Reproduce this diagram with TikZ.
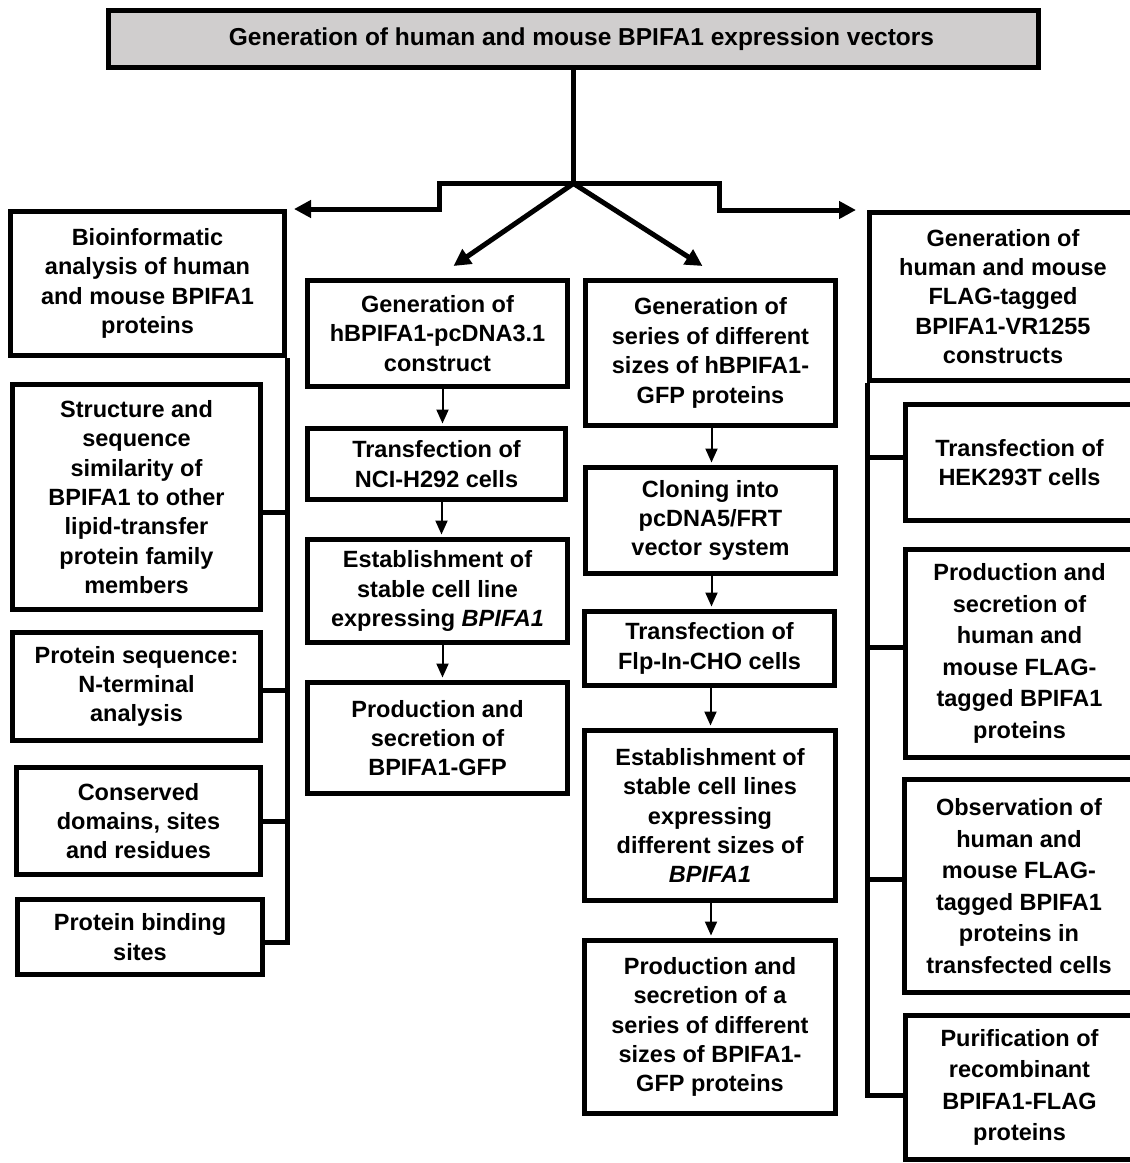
\documentclass[tikz,border=0pt]{standalone}
\usepackage{fontspec}
\setmainfont{Liberation Sans}
\usetikzlibrary{arrows.meta,calc}

\definecolor{headgray}{RGB}{208,206,206}

% box with outer edges x1,y1,x2,y2 (line width 5pt included)
\newcommand{\flowbox}[7][]{%
  \node[box, #1, minimum width={#5-#3-5}, minimum height={#6-#4-5}]
    (#2) at ({(#3+#5)/2},{(#4+#6)/2}) {#7};}

\begin{document}
\begin{tikzpicture}[x=1pt,y=-1pt,
  box/.style={draw, line width=5pt, fill=white, inner sep=0pt, align=center,
    font=\fontsize{23.5}{29.4}\selectfont\bfseries},
  loose/.style={font=\fontsize{23.5}{31.6}\selectfont\bfseries},
  heavy/.style={line width=5pt},
  bigarrow/.style={line width=5pt, -{Triangle[length=17pt,width=17pt]}},
  smallarrow/.style={line width=2pt, -{Triangle[length=14pt,width=12pt]}},
]
\useasboundingbox (0,0) rectangle (1130,1163);

% title
\node[box, fill=headgray, minimum width=930, minimum height=57,
      font=\fontsize{24.5}{28}\selectfont\bfseries]
  (top) at (573.5,39) {\hspace*{16pt}Generation of human and mouse BPIFA1 expression vectors};

% left column
\flowbox{bio}{8}{209}{287}{358}{Bioinformatic\\analysis of human\\and mouse BPIFA1\\proteins}
\flowbox{struct}{10}{382}{263}{612}{Structure and\\sequence\\similarity of\\BPIFA1 to other\\lipid-transfer\\protein family\\members}
\flowbox{protseq}{10}{630}{263}{743}{Protein sequence:\\N-terminal\\analysis}
\flowbox{cons}{14}{765}{263}{877}{Conserved\\domains, sites\\and residues}
\flowbox{bind}{15}{897}{265}{977}{Protein binding\\sites}

% first middle column
\flowbox{m1}{305}{278}{570}{389}{Generation of\\hBPIFA1-pcDNA3.1\\construct}
\flowbox{m2}{305}{426}{568}{502}{Transfection of\\NCI-H292 cells}
\flowbox{m3}{305}{537}{570}{645}{Establishment of\\stable cell line\\expressing \textit{BPIFA1}}
\flowbox{m4}{305}{680}{570}{796}{Production and\\secretion of\\BPIFA1-GFP}

% second middle column
\flowbox{m5}{583}{278}{838}{428}{Generation of\\series of different\\sizes of hBPIFA1-\\GFP proteins}
\flowbox{m6}{583}{465}{838}{576}{Cloning into\\pcDNA5/FRT\\vector system}
\flowbox{m7}{582}{609}{837}{688}{Transfection of\\Flp-In-CHO cells}
\flowbox{m8}{582}{728}{838}{903}{Establishment of\\stable cell lines\\expressing\\different sizes of\\\textit{BPIFA1}}
\flowbox{m9}{582}{938}{838}{1116}{Production and\\secretion of a\\series of different\\sizes of BPIFA1-\\GFP proteins}

% right column
\flowbox{R1}{867}{210}{1139}{383}{Generation of\\human and mouse\\FLAG-tagged\\BPIFA1-VR1255\\constructs}
\flowbox{R2}{903}{402}{1136}{523}{Transfection of\\HEK293T cells}
\flowbox[loose]{R3}{903}{547}{1136}{760}{Production and\\secretion of\\human and\\mouse FLAG-\\tagged BPIFA1\\proteins}
\flowbox[loose]{R4}{902}{777}{1136}{995}{Observation of\\human and\\mouse FLAG-\\tagged BPIFA1\\proteins in\\transfected cells}
\flowbox[loose]{R5}{903}{1013}{1136}{1162}{Purification of\\recombinant\\BPIFA1-FLAG\\proteins}

% trunk and branches
\draw[heavy] (top.south) -- ++(0,113.5) coordinate (hub);
\draw[bigarrow] (hub) -- ++(-134,0) |- ([xshift=7pt]bio.north east);
\draw[bigarrow] (hub) -- ++(146,0) |- ([xshift=-11pt]R1.north west);
\draw[bigarrow] (hub) -- ([xshift=16pt,yshift=12pt]m1.north);
\draw[bigarrow] (hub) -- ([xshift=-8pt,yshift=12pt]m5.north);

% left bracket
\draw[heavy] (bio.south east) |- ([yshift=-5pt]bind.east);
\draw[heavy] ([yshift=-15pt]struct.east) -- ([yshift=-15pt]struct.east -| bio.east);
\draw[heavy] ([yshift=-3.5pt]protseq.east) -- ([yshift=-3.5pt]protseq.east -| bio.east);
\draw[heavy] (cons.east) -- (cons.east -| bio.east);

% right bracket
\draw[heavy] (R1.south west) |- ([yshift=-7.5pt]R5.west);
\draw[heavy] ([yshift=5.5pt]R2.west) -- ([yshift=5.5pt]R2.west -| R1.west);
\draw[heavy] ([yshift=6.5pt]R3.west) -- ([yshift=6.5pt]R3.west -| R1.west);
\draw[heavy] ([yshift=7pt]R4.west) -- ([yshift=7pt]R4.west -| R1.west);

% step arrows, first middle column
\foreach \a/\b in {m1/m2, m2/m3, m3/m4}
  \draw[smallarrow] ([xshift=5pt]\a.south) -- ([xshift=5pt,yshift=2.5pt]\a.south |- \b.north);
% step arrows, second middle column
\foreach \a/\b in {m5/m6, m6/m7, m7/m8, m8/m9}
  \draw[smallarrow] ([xshift=1pt]\a.south) -- ([xshift=1pt,yshift=2.5pt]\a.south |- \b.north);
\end{tikzpicture}
\end{document}
